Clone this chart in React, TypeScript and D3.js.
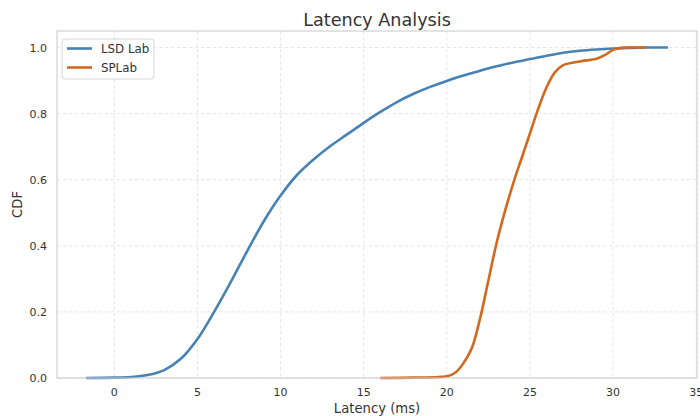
import React from 'react';
import * as d3 from 'd3';

// latency (ms) and CDF values
const lsdLatency = [-1.7, 0, 1, 2, 3, 4, 5, 6, 7, 8, 9, 10, 11, 12, 13, 14, 15, 16, 17, 18, 19, 20, 21, 22, 23, 24, 25, 26, 27, 28, 29, 30, 31, 32, 33.3];
const lsdCdf = [0, 0.001, 0.003, 0.009, 0.024, 0.058, 0.118, 0.2, 0.29, 0.385, 0.475, 0.552, 0.615, 0.662, 0.702, 0.737, 0.772, 0.805, 0.835, 0.86, 0.881, 0.899, 0.915, 0.93, 0.943, 0.955, 0.965, 0.975, 0.984, 0.99, 0.994, 0.997, 0.999, 1.0, 1.0];

const spLatency = [16, 18, 19.5, 20.2, 20.6, 21, 21.5, 22, 22.5, 23, 23.5, 24, 24.5, 25, 25.5, 26, 26.5, 27, 28, 29, 29.5, 30, 30.5, 31, 32];
const spCdf = [0, 0.001, 0.003, 0.008, 0.02, 0.045, 0.09, 0.18, 0.295, 0.41, 0.505, 0.59, 0.665, 0.74, 0.815, 0.88, 0.925, 0.947, 0.958, 0.966, 0.977, 0.993, 0.999, 1.0, 1.0];

const seriesNames = ['LSD Lab', 'SPLab'];
const seriesColors = ['#4682b4', '#d2691e'];
const xTicks = [0, 5, 10, 15, 20, 25, 30, 35];
const yTicks = [0, 0.2, 0.4, 0.6, 0.8, 1.0];

const W = 700;
const H = 416;
const m = { left: 57, right: 3, top: 31, bottom: 38 };
const font = 'DejaVu Sans, sans-serif';

export default function App() {
  const x = d3.scaleLinear().domain([-3.45, 35.05]).range([m.left, W - m.right]);
  const y = d3.scaleLinear().domain([0, 1.05]).range([H - m.bottom, m.top]);

  const line = d3.line<[number, number]>()
    .x(d => x(d[0]))
    .y(d => y(d[1]))
    .curve(d3.curveCatmullRom.alpha(0.5));

  const series = [
    lsdLatency.map((v, i) => [v, lsdCdf[i]] as [number, number]),
    spLatency.map((v, i) => [v, spCdf[i]] as [number, number]),
  ];

  const [x0, x1] = x.range();
  const [y0, y1] = y.range();

  return (
    <svg width={W} height={H} style={{ position: 'absolute', left: 0, top: 0 }} fontFamily={font}>
      <rect width={W} height={H} fill="#fff" />
      {/* grid */}
      {xTicks.map(t => (
        <line key={'gx' + t} x1={x(t)} x2={x(t)} y1={y1} y2={y0} stroke="#e3e3e3" strokeWidth={0.9} strokeDasharray="3.5,2.5" />
      ))}
      {yTicks.map(t => (
        <line key={'gy' + t} x1={x0} x2={x1} y1={y(t)} y2={y(t)} stroke="#e3e3e3" strokeWidth={0.9} strokeDasharray="3.5,2.5" />
      ))}
      {/* lines */}
      {series.map((s, i) => (
        <path key={seriesNames[i]} d={line(s) || ''} fill="none" stroke={seriesColors[i]} strokeWidth={2.6} strokeLinejoin="round" />
      ))}
      {/* frame */}
      <rect x={x0} y={y1} width={x1 - x0} height={y0 - y1} fill="none" stroke="#cccccc" strokeWidth={1.1} />
      {/* tick labels */}
      {xTicks.map(t => (
        <text key={'tx' + t} x={x(t)} y={y0 + 18} textAnchor="middle" fontSize={11} fill="#333">{t}</text>
      ))}
      {yTicks.map(t => (
        <text key={'ty' + t} x={x0 - 10} y={y(t) + 4} textAnchor="end" fontSize={11} fill="#333">{t.toFixed(1)}</text>
      ))}
      {/* labels */}
      <text x={(x0 + x1) / 2} y={26} textAnchor="middle" fontSize={17.6} fill="#333">Latency Analysis</text>
      <text x={(x0 + x1) / 2} y={413} textAnchor="middle" fontSize={13.2} fill="#333">Latency (ms)</text>
      <text transform={`translate(22,${(y0 + y1) / 2}) rotate(-90)`} textAnchor="middle" fontSize={13.2} fill="#333">CDF</text>
      {/* legend */}
      <g transform="translate(62,39)">
        <rect x={0} y={0} width={92} height={40} rx={3} fill="#fff" fillOpacity={0.8} stroke="#d6d6d6" strokeWidth={1} />
        {seriesNames.map((n, i) => (
          <g key={n} transform={`translate(0,${9.5 + i * 19})`}>
            <line x1={5} x2={30} y1={0} y2={0} stroke={seriesColors[i]} strokeWidth={2.6} />
            <text x={39} y={4.2} fontSize={11.8} fill="#333">{n}</text>
          </g>
        ))}
      </g>
    </svg>
  );
}
